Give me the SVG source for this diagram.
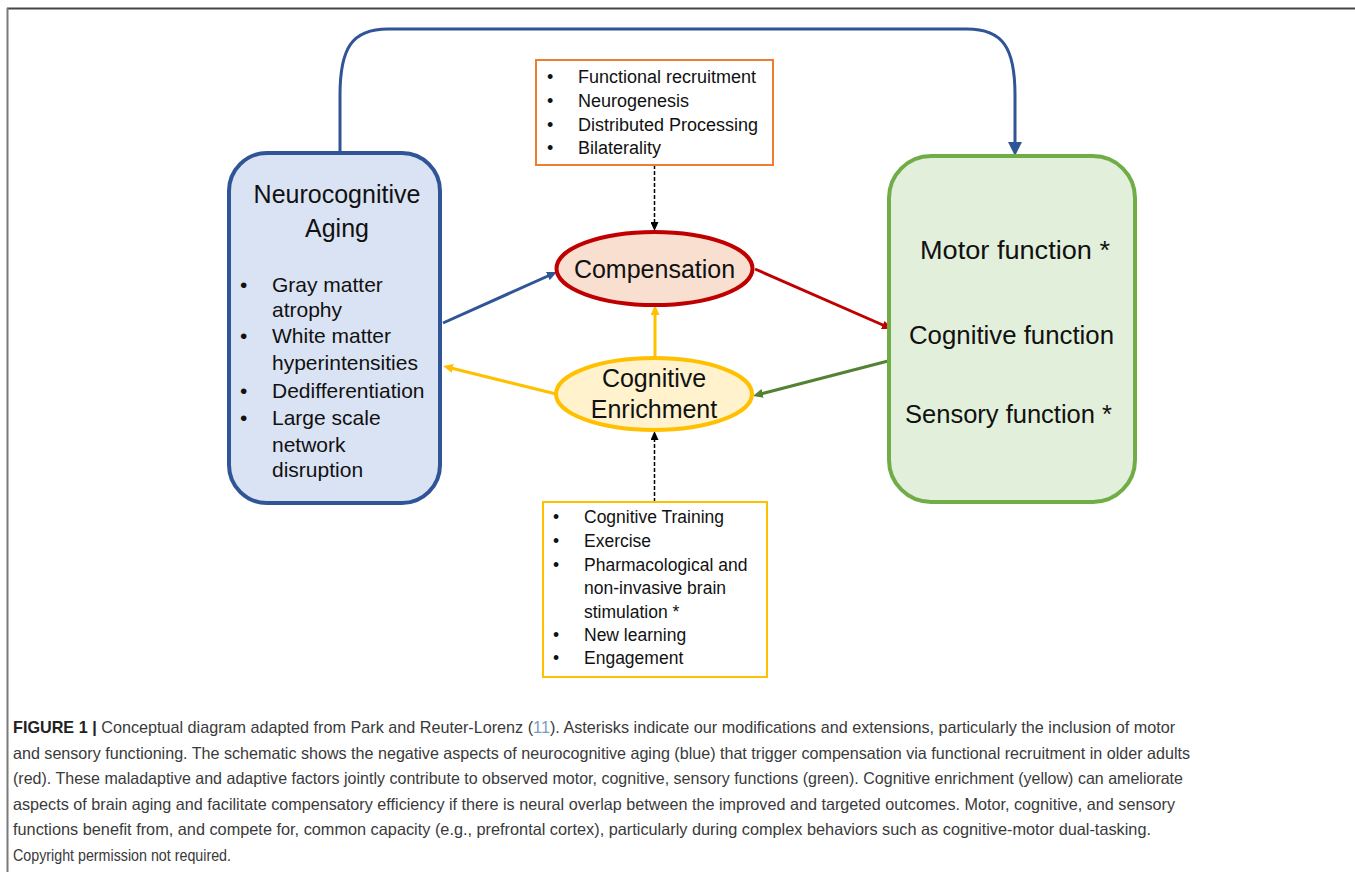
<svg xmlns="http://www.w3.org/2000/svg" width="1355" height="872" viewBox="0 0 1355 872">
<defs>
<style>
text{font-family:"Liberation Sans",Arial,sans-serif;fill:#111}
.big{font-size:25px}
.mid{font-size:21px}
.sm{font-size:18px}
.ys{font-size:17.5px}
.cap{font-size:16.5px;fill:#3a3a3a}
.conn{fill:none;stroke-width:3}
</style>
<marker id="mBlue" markerUnits="userSpaceOnUse" markerWidth="10" markerHeight="9" refX="5" refY="4.5" orient="auto"><path d="M0,0 L10,4.5 L0,9 z" fill="#2f5597"/></marker>
<marker id="mRed" markerUnits="userSpaceOnUse" markerWidth="10" markerHeight="9" refX="5" refY="4.5" orient="auto"><path d="M0,0 L10,4.5 L0,9 z" fill="#c00000"/></marker>
<marker id="mGreen" markerUnits="userSpaceOnUse" markerWidth="10" markerHeight="9" refX="5" refY="4.5" orient="auto"><path d="M0,0 L10,4.5 L0,9 z" fill="#548235"/></marker>
<marker id="mYellow" markerUnits="userSpaceOnUse" markerWidth="10" markerHeight="9" refX="5" refY="4.5" orient="auto"><path d="M0,0 L10,4.5 L0,9 z" fill="#ffc000"/></marker>
<marker id="mBlack" markerUnits="userSpaceOnUse" markerWidth="9" markerHeight="8" refX="4" refY="4" orient="auto"><path d="M0,0 L9,4 L0,8 z" fill="#000"/></marker>
<marker id="mBlueBig" markerUnits="userSpaceOnUse" markerWidth="14" markerHeight="14" refX="7" refY="7" orient="auto"><path d="M0,0 L14,7 L0,14 z" fill="#2f5597"/></marker>
</defs>
<rect width="1355" height="872" fill="#fff"/>
<g id="frame">
<line x1="7" y1="8.5" x2="1355" y2="8.5" stroke="#444" stroke-width="2"/>
<line x1="7.5" y1="8" x2="7.5" y2="872" stroke="#7a7a7a" stroke-width="2"/>
</g>
<g id="connectors">
<path class="conn" stroke="#2f5597" stroke-width="4" d="M340,153 V95 C340,48 352,29 388,29 H967 C1003,29 1015,48 1015,95 V149" marker-end="url(#mBlueBig)"/>
<line class="conn" stroke="#2f5597" x1="443" y1="323" x2="552.4" y2="274" marker-end="url(#mBlue)"/>
<line class="conn" stroke="#c00000" x1="755" y1="269" x2="887.4" y2="327" marker-end="url(#mRed)"/>
<line class="conn" stroke="#548235" x1="892" y1="360" x2="757.8" y2="394.7" marker-end="url(#mGreen)"/>
<line class="conn" stroke="#ffc000" x1="655" y1="356" x2="655" y2="310" marker-end="url(#mYellow)"/>
<line class="conn" stroke="#ffc000" x1="556" y1="394" x2="447.9" y2="367.2" marker-end="url(#mYellow)"/>
<line stroke="#000" stroke-width="1.5" stroke-dasharray="4,2" x1="654.5" y1="165" x2="654.5" y2="226" marker-end="url(#mBlack)"/>
<line stroke="#000" stroke-width="1.5" stroke-dasharray="4,2" x1="654.5" y1="502" x2="654.5" y2="436" marker-end="url(#mBlack)"/>
</g>
<g id="aging">
<rect x="229" y="153" width="211" height="350" rx="38" ry="38" fill="#dae3f3" stroke="#2f5597" stroke-width="4"/>
<text class="big" x="337" y="203" text-anchor="middle">Neurocognitive</text>
<text class="big" x="337" y="237" text-anchor="middle">Aging</text>
<g class="mid">
<text x="240" y="292">•</text><text x="272" y="292">Gray matter</text>
<text x="272" y="317">atrophy</text>
<text x="240" y="343">•</text><text x="272" y="343">White matter</text>
<text x="272" y="370">hyperintensities</text>
<text x="240" y="398">•</text><text x="272" y="398">Dedifferentiation</text>
<text x="240" y="425">•</text><text x="272" y="425">Large scale</text>
<text x="272" y="452">network</text>
<text x="272" y="477">disruption</text>
</g>
</g>
<g id="mechanisms">
<rect x="536" y="60" width="237" height="105" fill="#fff" stroke="#ed7d31" stroke-width="2"/>
<g class="sm">
<text x="547" y="83">•</text><text x="578" y="83">Functional recruitment</text>
<text x="547" y="107">•</text><text x="578" y="107">Neurogenesis</text>
<text x="547" y="131">•</text><text x="578" y="131">Distributed Processing</text>
<text x="547" y="154">•</text><text x="578" y="154">Bilaterality</text>
</g>
</g>
<g id="compensation">
<ellipse cx="654.5" cy="268.5" rx="98" ry="36.5" fill="#f8dfcf" stroke="#c00000" stroke-width="4"/>
<text class="big" x="654.5" y="278" text-anchor="middle">Compensation</text>
</g>
<g id="enrichment">
<ellipse cx="654" cy="394" rx="98" ry="36" fill="#fff2cc" stroke="#ffc000" stroke-width="4"/>
<text class="big" x="654" y="387" text-anchor="middle">Cognitive</text>
<text class="big" x="654" y="418" text-anchor="middle">Enrichment</text>
</g>
<g id="functions">
<rect x="889" y="156" width="246" height="346" rx="42" ry="42" fill="#e2efda" stroke="#70ad47" stroke-width="4"/>
<text class="big" x="920" y="259" textLength="190" lengthAdjust="spacingAndGlyphs">Motor function *</text>
<text class="big" x="909" y="344" textLength="205" lengthAdjust="spacingAndGlyphs">Cognitive function</text>
<text class="big" x="905" y="423" textLength="207" lengthAdjust="spacingAndGlyphs">Sensory function *</text>
</g>
<g id="interventions">
<rect x="543" y="502" width="224" height="175" fill="#fff" stroke="#ffc000" stroke-width="2"/>
<g class="ys">
<text x="553" y="523">•</text><text x="584" y="523">Cognitive Training</text>
<text x="553" y="547">•</text><text x="584" y="547">Exercise</text>
<text x="553" y="571">•</text><text x="584" y="571">Pharmacological and</text>
<text x="584" y="594">non-invasive brain</text>
<text x="584" y="618">stimulation *</text>
<text x="553" y="641">•</text><text x="584" y="641">New learning</text>
<text x="553" y="664">•</text><text x="584" y="664">Engagement</text>
</g>
</g>
<g id="caption">
<text class="cap" x="13" y="733" style="font-size:16.2px"><tspan font-weight="bold" style="fill:#222">FIGURE 1 |</tspan> Conceptual diagram adapted from Park and Reuter-Lorenz (<tspan style="fill:#7a9cc0">11</tspan>). Asterisks indicate our modifications and extensions, particularly the inclusion of motor</text>
<text class="cap" x="13" y="758.5" textLength="1177" lengthAdjust="spacingAndGlyphs">and sensory functioning. The schematic shows the negative aspects of neurocognitive aging (blue) that trigger compensation via functional recruitment in older adults</text>
<text class="cap" x="13" y="784" textLength="1170" lengthAdjust="spacingAndGlyphs">(red). These maladaptive and adaptive factors jointly contribute to observed motor, cognitive, sensory functions (green). Cognitive enrichment (yellow) can ameliorate</text>
<text class="cap" x="13" y="809.5" textLength="1162" lengthAdjust="spacingAndGlyphs">aspects of brain aging and facilitate compensatory efficiency if there is neural overlap between the improved and targeted outcomes. Motor, cognitive, and sensory</text>
<text class="cap" x="13" y="835" textLength="1138" lengthAdjust="spacingAndGlyphs">functions benefit from, and compete for, common capacity (e.g., prefrontal cortex), particularly during complex behaviors such as cognitive-motor dual-tasking.</text>
<text class="cap" x="13" y="860.5" textLength="218" lengthAdjust="spacingAndGlyphs">Copyright permission not required.</text>
</g>
</svg>
